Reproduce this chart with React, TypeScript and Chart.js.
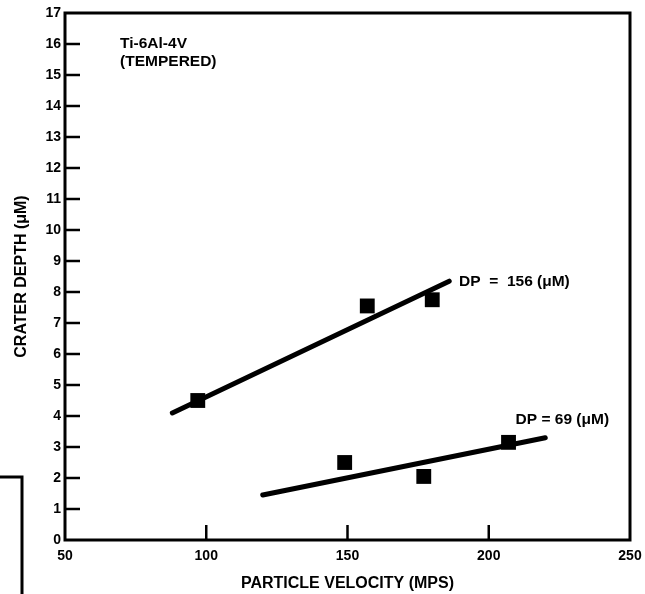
import React, { useEffect, useRef } from "react";
import { Chart, registerables } from "chart.js";

Chart.register(...registerables);

// Axis ticks
const xTickValues = [50, 100, 150, 200, 250];
const yTickValues = [0, 1, 2, 3, 4, 5, 6, 7, 8, 9, 10, 11, 12, 13, 14, 15, 16, 17];

// DP = 156 (μM)
const velocity156 = [97, 157, 180];
const depth156 = [4.5, 7.55, 7.75];
const fitVelocity156 = [88, 186];
const fitDepth156 = [4.1, 8.35];

// DP = 69 (μM)
const velocity69 = [149, 177, 207];
const depth69 = [2.5, 2.05, 3.15];
const fitVelocity69 = [120, 220];
const fitDepth69 = [1.45, 3.3];

// Text annotations (data coordinates)
const labelTexts = ["DP  =  156 (μM)", "DP = 69 (μM)", "Ti-6Al-4V", "(TEMPERED)"];
const labelX = [189.5, 209.5, 69.5, 69.5];
const labelY = [8.32, 3.87, 16.0, 15.42];

const FONT = "'Liberation Sans', Arial, sans-serif";

const toPoints = (xs: number[], ys: number[]) => xs.map((x, i) => ({ x, y: ys[i] }));

const framePlugin = {
  id: "frameAndTicks",
  afterDraw(chart: any) {
    const ctx = chart.ctx;
    const { left, right, top, bottom } = chart.chartArea;
    const xs = chart.scales.x;
    const ys = chart.scales.y;
    ctx.save();
    ctx.strokeStyle = "#000";
    ctx.lineWidth = 3;
    ctx.lineCap = "square";
    ctx.strokeRect(left, top, right - left, bottom - top);
    // inward tick marks
    ctx.lineWidth = 2.5;
    ctx.lineCap = "butt";
    yTickValues.forEach((v) => {
      if (v === 0 || v === 17) return;
      const py = ys.getPixelForValue(v);
      ctx.beginPath();
      ctx.moveTo(left, py);
      ctx.lineTo(left + 15, py);
      ctx.stroke();
    });
    xTickValues.forEach((v) => {
      if (v === 50 || v === 250) return;
      const px = xs.getPixelForValue(v);
      ctx.beginPath();
      ctx.moveTo(px, bottom);
      ctx.lineTo(px, bottom - 15);
      ctx.stroke();
    });
    // annotations
    ctx.fillStyle = "#000";
    ctx.textBaseline = "middle";
    ctx.textAlign = "left";
    ctx.font = `bold 15.5px ${FONT}`;
    labelTexts.forEach((t, i) => {
      ctx.fillText(t, xs.getPixelForValue(labelX[i]), ys.getPixelForValue(labelY[i]));
    });
    // scan artifact bracket at lower left
    ctx.lineWidth = 3;
    ctx.beginPath();
    ctx.moveTo(0, 477);
    ctx.lineTo(22, 477);
    ctx.lineTo(22, 594);
    ctx.stroke();
    ctx.restore();
  },
};

export default function App() {
  const ref = useRef<HTMLCanvasElement | null>(null);
  useEffect(() => {
    if (!ref.current) return;
    const chart = new Chart(ref.current, {
      type: "scatter",
      data: {
        datasets: [
          {
            label: "DP = 156 fit",
            data: toPoints(fitVelocity156, fitDepth156),
            showLine: true,
            borderColor: "#000",
            borderWidth: 5,
            pointRadius: 0,
            borderCapStyle: "round",
          },
          {
            label: "DP = 69 fit",
            data: toPoints(fitVelocity69, fitDepth69),
            showLine: true,
            borderColor: "#000",
            borderWidth: 5,
            pointRadius: 0,
            borderCapStyle: "round",
          },
          {
            label: "DP = 156",
            data: toPoints(velocity156, depth156),
            pointStyle: "rect",
            pointRadius: 10.5,
            backgroundColor: "#000",
            borderColor: "#000",
            borderWidth: 0,
          },
          {
            label: "DP = 69",
            data: toPoints(velocity69, depth69),
            pointStyle: "rect",
            pointRadius: 10.5,
            backgroundColor: "#000",
            borderColor: "#000",
            borderWidth: 0,
          },
        ],
      } as any,
      options: {
        animation: false,
        responsive: false,
        devicePixelRatio: 1,
        layout: { padding: { top: 13, right: 15, left: 0, bottom: 0 } },
        plugins: { legend: { display: false }, tooltip: { enabled: false } },
        scales: {
          x: {
            type: "linear",
            min: 50,
            max: 250,
            afterFit: (s: any) => {
              s.height = 54;
              s.paddingLeft = 0;
              s.paddingRight = 0;
            },
            afterBuildTicks: (s: any) => {
              s.ticks = xTickValues.map((v) => ({ value: v }));
            },
            grid: { display: false, drawTicks: false },
            border: { display: false },
            ticks: {
              color: "#000",
              padding: 8,
              font: { family: FONT, size: 14, weight: "bold" },
            },
            title: {
              display: true,
              text: "PARTICLE VELOCITY (MPS)",
              color: "#000",
              font: { family: FONT, size: 16, weight: "bold" },
              padding: { top: 0, bottom: 1 },
            },
          },
          y: {
            type: "linear",
            min: 0,
            max: 17,
            afterFit: (s: any) => {
              s.width = 65;
              s.paddingTop = 0;
              s.paddingBottom = 0;
            },
            afterBuildTicks: (s: any) => {
              s.ticks = yTickValues.map((v) => ({ value: v }));
            },
            grid: { display: false, drawTicks: false },
            border: { display: false },
            ticks: {
              color: "#000",
              padding: 4,
              font: { family: FONT, size: 14, weight: "bold" },
            },
            title: {
              display: true,
              text: "CRATER DEPTH (μM)",
              color: "#000",
              font: { family: FONT, size: 16, weight: "bold" },
              padding: { top: 12, bottom: 0 },
            },
          },
        },
      } as any,
      plugins: [framePlugin],
    });
    return () => chart.destroy();
  }, []);
  return (
    <div style={{ position: "absolute", left: 0, top: 0, width: 645, height: 594, background: "#fff" }}>
      <canvas ref={ref} width={645} height={594} />
    </div>
  );
}
